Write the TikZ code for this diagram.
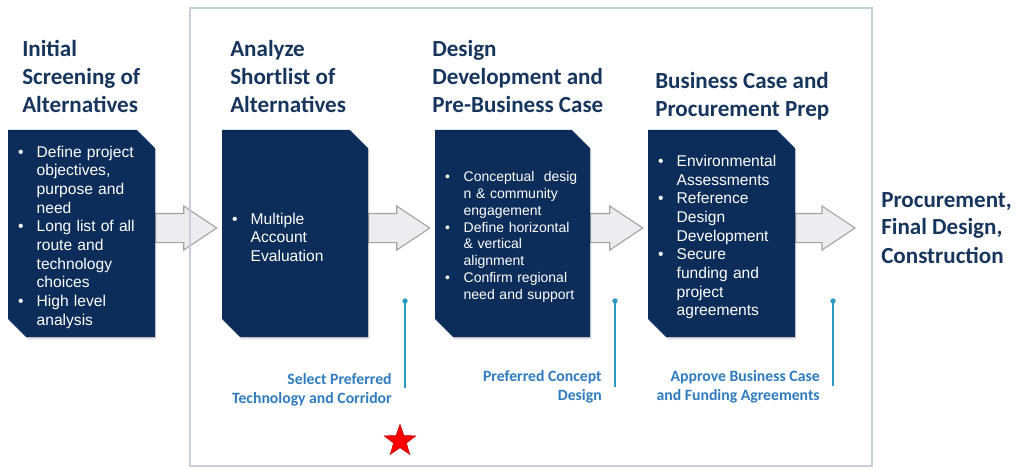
\documentclass[tikz,border=0pt]{standalone}
\usepackage{fontspec}
\setmainfont{Liberation Sans}
\newfontfamily\titlefont{Carlito}
\usetikzlibrary{shapes.misc,shapes.geometric,calc,shadows}

\definecolor{stagenavy}{HTML}{0C2C59}
\definecolor{titlenavy}{HTML}{17365D}
\definecolor{msteal}{HTML}{2A9AC4}
\definecolor{mstext}{HTML}{2E7BBF}
\definecolor{arrowfill}{HTML}{EDEDEF}
\definecolor{arrowline}{HTML}{A3A3A3}
\definecolor{framegray}{HTML}{C5CFDB}

\pgfdeclarelayer{background}
\pgfsetlayers{background,main}

\tikzset{
  stagebox/.style={chamfered rectangle, chamfered rectangle corners={north east,south west},
    chamfered rectangle xsep=10pt, fill=stagenavy, text=white, inner xsep=-2.5pt, inner ysep=0pt,
    minimum height=155.25pt, drop shadow={shadow xshift=1pt,shadow yshift=-1.5pt,opacity=.3},
    font=\fontsize{11.7}{14}\selectfont},
  stagetitle/.style={anchor=base west, inner sep=0pt, align=left, text=titlenavy,
    font=\titlefont\bfseries\fontsize{17.3}{21}\selectfont},
  flowarrow/.style={fill=arrowfill, draw=arrowline, line width=0.8pt, line join=miter},
  msline/.style={msteal, line width=1.5pt},
  mslabel/.style={anchor=base east, inner sep=0pt, align=right, text=mstext,
    font=\titlefont\bfseries\fontsize{11.8}{14}\selectfont}
}

% bullet line inside a stage box
\newcommand\bitem{\par\noindent\llap{\makebox[14pt][l]{\textbullet}}}
% block arrow from one stage box to the next
\newcommand\flowarrow[2]{%
  \draw[flowarrow] let \p1=(#1), \p2=(#2) in
    (\x1,\y1+15pt) -- (\x2-28.5pt,\y1+15pt) -- (\x2-28.5pt,\y1+20.6pt) -- (\x2-3.75pt,\y1+4.1pt)
    -- (\x2-28.5pt,\y1-12.4pt) -- (\x2-28.5pt,\y1-6.8pt) -- (\x1,\y1-6.8pt) -- cycle;}

\begin{document}
\begin{tikzpicture}[x=0.75pt,y=-0.75pt]
  \useasboundingbox (0,0) rectangle (1020,470);

  % stage titles
  \node[stagetitle] (t1) at (22,113) {Initial\\Screening of\\Alternatives};
  \node[stagetitle] (t2) at (230,113) {Analyze\\Shortlist of\\Alternatives};
  \node[stagetitle] (t3) at (432,113) {Design\\Development and\\Pre-Business Case};
  \node[stagetitle] (t4) at (655,117) {Business Case and\\Procurement Prep};
  \node[stagetitle] (tend) at (881,263) {Procurement,\\Final Design,\\Construction};

  % stage boxes
  \node[stagebox, minimum width=110.25pt, text width=95.25pt] (b1) at (81.5,233.5) {\leftskip=14pt
    \bitem Define project\\objectives,\\purpose and\\need
    \bitem Long list of all\\route and\\technology\\choices
    \bitem High level\\analysis\par};
  \node[stagebox, minimum width=109.5pt, text width=94.5pt] (b2) at (295,233.5) {\leftskip=14pt
    \bitem Multiple\\Account\\Evaluation\par};
  \node[stagebox, minimum width=116.25pt, text width=101.25pt, font=\fontsize{10.5}{12.7}\selectfont] (b3) at (512.5,233.5) {\leftskip=14pt
    \bitem Conceptual~ desig\\n \& community\\engagement
    \bitem Define horizontal\\\& vertical\\alignment
    \bitem Confirm regional\\need and support\par};
  \node[stagebox, minimum width=110.25pt, text width=95.25pt] (b4) at (721.5,233.5) {\leftskip=14pt
    \bitem Environmental\\Assessments
    \bitem Reference\\Design\\Development
    \bitem Secure\\funding and\\project\\agreements\par};
  \coordinate (tipend) at (860,233.5);

  \begin{pgfonlayer}{background}
    \flowarrow{b1.east}{b2.west}
    \flowarrow{b2.east}{b3.west}
    \flowarrow{b3.east}{b4.west}
    \flowarrow{b4.east}{tipend}
    \draw[framegray, line width=0.8pt] (190,8) rectangle (872,466);
  \end{pgfonlayer}

  % milestones
  \coordinate (m1) at (405,301);
  \coordinate (m2) at (615,301);
  \coordinate (m3) at (833,301);
  \draw[msline] (m1) -- ++(0,87);
  \draw[msline] (m2) -- ++(0,86);
  \draw[msline] (m3) -- ++(0,85);
  \fill[msteal] (m1) circle (2pt) (m2) circle (2pt) (m3) circle (2pt);
  \node[mslabel] (l1) at (392,403) {Select Preferred\\Technology and Corridor};
  \node[mslabel] (l2) at (602,400) {Preferred Concept\\Design};
  \node[mslabel] (l3) at (820,400) {Approve Business Case\\and Funding Agreements};

  \node[star, star points=5, star point ratio=2.5, fill=red, draw=red!75!black, line width=0.4pt,
    minimum size=25pt, inner sep=0pt] (star) at (400,441) {};
\end{tikzpicture}
\end{document}
